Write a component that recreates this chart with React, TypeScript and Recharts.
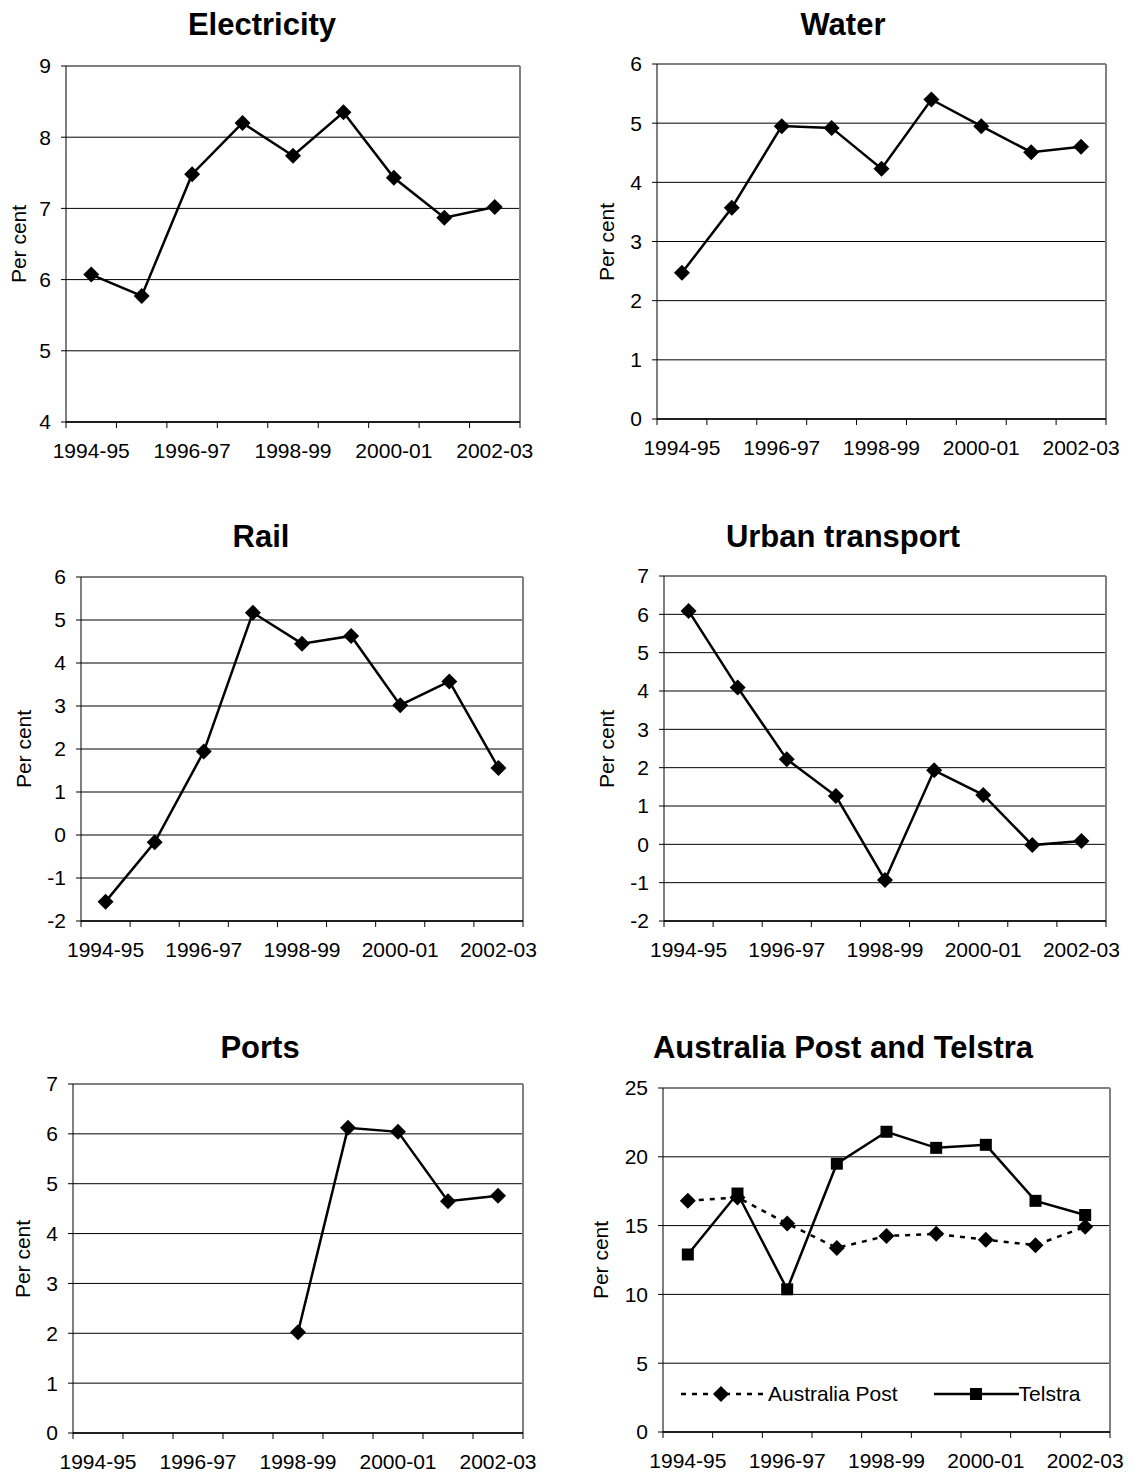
import { LineChart, Line, XAxis, YAxis, CartesianGrid, ReferenceLine, Legend } from 'recharts';

const categories = ['1994-95', '1995-96', '1996-97', '1997-98', '1998-99', '1999-00', '2000-01', '2001-02', '2002-03'];

const electricity = [6.07, 5.77, 7.48, 8.2, 7.74, 8.35, 7.43, 6.87, 7.02];
const water = [2.47, 3.57, 4.95, 4.92, 4.23, 5.4, 4.95, 4.51, 4.6];
const rail = [-1.55, -0.17, 1.94, 5.17, 4.45, 4.63, 3.02, 3.57, 1.56];
const urbanTransport = [6.09, 4.09, 2.22, 1.26, -0.93, 1.93, 1.29, -0.02, 0.09];
const ports = [null, null, null, null, 2.02, 6.12, 6.04, 4.65, 4.76];
const australiaPost = [16.8, 17.05, 15.15, 13.38, 14.25, 14.4, 13.97, 13.58, 14.92];
const telstra = [12.9, 17.33, 10.37, 19.5, 21.82, 20.65, 20.87, 16.8, 15.77];

const electricityTicks = [4, 5, 6, 7, 8, 9];
const waterTicks = [0, 1, 2, 3, 4, 5, 6];
const railTicks = [-2, -1, 0, 1, 2, 3, 4, 5, 6];
const urbanTicks = [-2, -1, 0, 1, 2, 3, 4, 5, 6, 7];
const portsTicks = [0, 1, 2, 3, 4, 5, 6, 7];
const postTicks = [0, 5, 10, 15, 20, 25];

// x-axis: marks sit between categories, labels under every other category
const boundaryTicks = [0, 1, 2, 3, 4, 5, 6, 7, 8, 9];
const labelTicks = [0.5, 2.5, 4.5, 6.5, 8.5];

const FONT = '"Liberation Sans", Arial, sans-serif';
const YW = 60;
const MT = 12;
const TICK_H = 8;
const LABEL_H = 40;

type Marker = 'diamond' | 'square';
type Series = { key: string; name: string; values: (number | null)[]; marker: Marker; dashed?: boolean };
type PanelCfg = {
  title: string;
  series: Series[];
  yTicks: number[];
  plot: { x0: number; y0: number; x1: number; y1: number };
  mr: number;
  titleX: number;
  titleTop: number;
  labelX: number;
  legend?: boolean;
};

function Diamond({ cx, cy }: { cx: number; cy: number }) {
  return <polygon points={`${cx},${cy - 8} ${cx + 8},${cy} ${cx},${cy + 8} ${cx - 8},${cy}`} fill="#000" />;
}

function Square({ cx, cy }: { cx: number; cy: number }) {
  return <rect x={cx - 6} y={cy - 6} width={12} height={12} fill="#000" />;
}

const makeDot = (marker: Marker) => (props: any) => {
  const { cx, cy, index, value } = props;
  if (cx == null || cy == null || value == null || Number.isNaN(cy)) return <g key={`d-${index}`} />;
  return (
    <g key={`d-${index}`}>
      {marker === 'diamond' ? <Diamond cx={cx} cy={cy} /> : <Square cx={cx} cy={cy} />}
    </g>
  );
};

function PostTelstraLegend() {
  return (
    <div style={{ display: 'flex', alignItems: 'center', font: `21px ${FONT}`, color: '#000', whiteSpace: 'nowrap' }}>
      <svg width={84} height={20}>
        <line x1={0} y1={10} x2={84} y2={10} stroke="#000" strokeWidth={2.5} strokeDasharray="5 6" />
        <Diamond cx={40} cy={10} />
      </svg>
      <span style={{ marginLeft: 3 }}>Australia Post</span>
      <svg width={85} height={20} style={{ marginLeft: 36 }}>
        <line x1={0} y1={10} x2={85} y2={10} stroke="#000" strokeWidth={2.5} />
        <Square cx={42} cy={10} />
      </svg>
      <span>Telstra</span>
    </div>
  );
}

const panels: PanelCfg[] = [
  {
    title: 'Electricity',
    series: [{ key: 'v', name: 'Electricity', values: electricity, marker: 'diamond' }],
    yTicks: electricityTicks,
    plot: { x0: 66, y0: 66, x1: 520, y1: 422 },
    mr: 30,
    titleX: 262,
    titleTop: 9,
    labelX: 18,
  },
  {
    title: 'Water',
    series: [{ key: 'v', name: 'Water', values: water, marker: 'diamond' }],
    yTicks: waterTicks,
    plot: { x0: 657, y0: 64, x1: 1106, y1: 419 },
    mr: 20,
    titleX: 843,
    titleTop: 9,
    labelX: 606,
  },
  {
    title: 'Rail',
    series: [{ key: 'v', name: 'Rail', values: rail, marker: 'diamond' }],
    yTicks: railTicks,
    plot: { x0: 81, y0: 577, x1: 523, y1: 921 },
    mr: 30,
    titleX: 261,
    titleTop: 521,
    labelX: 23,
  },
  {
    title: 'Urban transport',
    series: [{ key: 'v', name: 'Urban transport', values: urbanTransport, marker: 'diamond' }],
    yTicks: urbanTicks,
    plot: { x0: 664, y0: 576, x1: 1106, y1: 921 },
    mr: 20,
    titleX: 843,
    titleTop: 521,
    labelX: 606,
  },
  {
    title: 'Ports',
    series: [{ key: 'v', name: 'Ports', values: ports, marker: 'diamond' }],
    yTicks: portsTicks,
    plot: { x0: 73, y0: 1084, x1: 523, y1: 1433 },
    mr: 30,
    titleX: 260,
    titleTop: 1032,
    labelX: 22,
  },
  {
    title: 'Australia Post and Telstra',
    series: [
      { key: 'post', name: 'Australia Post', values: australiaPost, marker: 'diamond', dashed: true },
      { key: 'telstra', name: 'Telstra', values: telstra, marker: 'square' },
    ],
    yTicks: postTicks,
    plot: { x0: 663, y0: 1088, x1: 1110, y1: 1432 },
    mr: 20,
    titleX: 843,
    titleTop: 1032,
    labelX: 600,
    legend: true,
  },
];

function Panel({ cfg }: { cfg: PanelCfg }) {
  const { plot, yTicks } = cfg;
  const w = plot.x1 - plot.x0;
  const h = plot.y1 - plot.y0;
  const yMin = yTicks[0];
  const yMax = yTicks[yTicks.length - 1];

  const data = categories.map((c, i) => {
    const row: Record<string, any> = { x: i + 0.5, cat: c };
    cfg.series.forEach((s) => {
      row[s.key] = s.values[i];
    });
    return row;
  });

  return (
    <>
      <div
        style={{
          position: 'absolute',
          left: cfg.titleX,
          top: cfg.titleTop,
          transform: 'translateX(-50%)',
          font: `bold 31px ${FONT}`,
          lineHeight: 1,
          whiteSpace: 'nowrap',
          color: '#000',
        }}
      >
        {cfg.title}
      </div>
      <div
        style={{
          position: 'absolute',
          left: cfg.labelX,
          top: (plot.y0 + plot.y1) / 2,
          transform: 'translate(-50%, -50%) rotate(-90deg)',
          font: `21px ${FONT}`,
          lineHeight: 1,
          whiteSpace: 'nowrap',
          color: '#000',
        }}
      >
        Per cent
      </div>
      <div style={{ position: 'absolute', left: plot.x0 - YW, top: plot.y0 - MT }}>
        <LineChart
          width={w + YW + cfg.mr}
          height={h + MT + TICK_H + LABEL_H}
          data={data}
          margin={{ top: MT, right: cfg.mr, bottom: 0, left: 0 }}
        >
          <CartesianGrid xAxisId="a" vertical={false} stroke="#000" strokeWidth={1} />
          <XAxis
            xAxisId="a"
            type="number"
            dataKey="x"
            domain={[0, 9]}
            ticks={boundaryTicks}
            interval={0}
            height={TICK_H}
            tickSize={6}
            tickFormatter={() => ''}
            axisLine={{ stroke: '#000', strokeWidth: 1.5 }}
            tickLine={{ stroke: '#000' }}
          />
          <XAxis
            xAxisId="b"
            type="number"
            dataKey="x"
            domain={[0, 9]}
            ticks={labelTicks}
            interval={0}
            height={LABEL_H}
            axisLine={false}
            tickLine={false}
            tickSize={0}
            tickMargin={13}
            tickFormatter={(v: number) => categories[Math.floor(v)]}
            tick={{ fill: '#000', fontSize: 21, fontFamily: FONT }}
          />
          <YAxis
            type="number"
            domain={[yMin, yMax]}
            ticks={yTicks}
            interval={0}
            width={YW}
            allowDataOverflow
            tickSize={5}
            tickMargin={10}
            axisLine={{ stroke: '#000' }}
            tickLine={{ stroke: '#000' }}
            tick={{ fill: '#000', fontSize: 21, fontFamily: FONT }}
          />
          <ReferenceLine xAxisId="a" y={yMax} stroke="#808080" strokeWidth={2} />
          <ReferenceLine xAxisId="a" x={9} stroke="#808080" strokeWidth={2} />
          {cfg.series.map((s) => (
            <Line
              key={s.key}
              xAxisId="a"
              type="linear"
              dataKey={s.key}
              name={s.name}
              stroke="#000"
              strokeWidth={2.5}
              strokeDasharray={s.dashed ? '5 6' : undefined}
              dot={makeDot(s.marker)}
              activeDot={false}
              connectNulls={false}
              isAnimationActive={false}
            />
          ))}
          {cfg.legend && (
            <Legend
              layout="horizontal"
              verticalAlign="middle"
              align="center"
              content={() => <PostTelstraLegend />}
              wrapperStyle={{ left: 78, top: 306, width: 430, height: 22 }}
            />
          )}
        </LineChart>
      </div>
    </>
  );
}

export default function App() {
  return (
    <div
      style={{
        position: 'absolute',
        left: 0,
        top: 0,
        width: 1130,
        height: 1475,
        background: '#fff',
        overflow: 'hidden',
      }}
    >
      {panels.map((p) => (
        <Panel key={p.title} cfg={p} />
      ))}
    </div>
  );
}
